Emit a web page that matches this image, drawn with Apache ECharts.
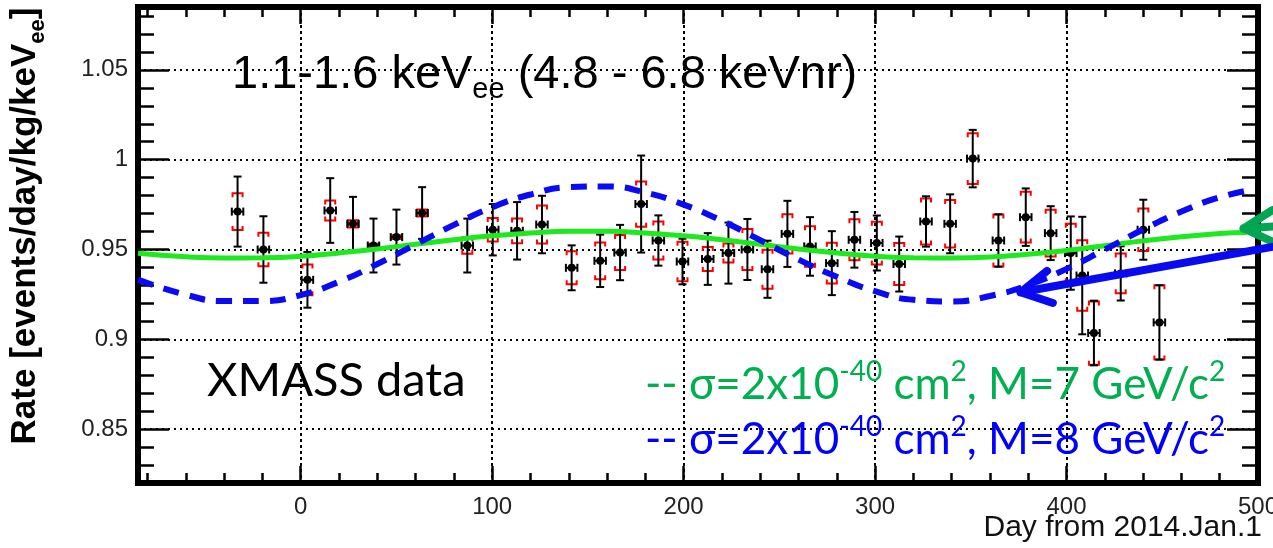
<!DOCTYPE html>
<html>
<head>
<meta charset="utf-8">
<title>XMASS modulation</title>
<script src="https://cdn.jsdelivr.net/npm/echarts@6/dist/echarts.min.js"></script>
<style>
  html, body { margin: 0; padding: 0; background: #fff; }
  #chart { width: 1273px; height: 548px; }
</style>
</head>
<body>
<div id="chart"></div>
<script>
// axis range and ticks
const X_MIN = -85
const X_MAX = 500
const Y_MIN = 0.82
const Y_MAX = 1.085
const xMajor = [0, 100, 200, 300, 400, 500]
const xMinor = [-80, -60, -40, -20, 0, 20, 40, 60, 80, 100, 120, 140, 160, 180, 200, 220, 240, 260, 280, 300,
  320, 340, 360, 380, 400, 420, 440, 460, 480, 500]
const yMajor = [0.85, 0.9, 0.95, 1, 1.05]
const yMinor = [0.82, 0.83, 0.84, 0.85, 0.86, 0.87, 0.88, 0.89, 0.9, 0.91, 0.92, 0.93, 0.94, 0.95, 0.96, 0.97,
  0.98, 0.99, 1, 1.01, 1.02, 1.03, 1.04, 1.05, 1.06, 1.07, 1.08]

// XMASS data points (day, rate, stat. error, syst. error)
const days = [-33, -19.5, 3.5, 15.4, 27.3, 38, 50, 63.4, 87, 100.3, 113, 126, 141.5, 156.4, 166.8, 177.8,
  186.8, 199.4, 212.6, 223.4, 233.3, 243.8, 254.2, 266, 277.4, 289.2, 300.9, 312.6, 326.6, 339.2, 351,
  364.4, 378.7, 391.7, 402.2, 408.2, 414.3, 428.3, 440.1, 448.5]
const rates = [0.9711, 0.950, 0.9331, 0.9717, 0.9643, 0.9522, 0.9569, 0.9703, 0.9522, 0.961, 0.9604, 0.9639,
  0.9398, 0.9437, 0.9483, 0.9753, 0.955, 0.9433, 0.9447, 0.948, 0.950, 0.939, 0.9587, 0.9517, 0.9424, 0.9554,
  0.9536, 0.9419, 0.9656, 0.9643, 1.0006, 0.955, 0.968, 0.9591, 0.948, 0.9355, 0.9035, 0.9367, 0.961, 0.9094]
const statErr = [0.0195, 0.0185, 0.0155, 0.018, 0.015, 0.015, 0.0153, 0.0144, 0.015, 0.0143, 0.016, 0.016,
  0.0125, 0.0146, 0.0154, 0.027, 0.014, 0.0127, 0.0144, 0.017, 0.017, 0.0159, 0.0184, 0.0163, 0.0178, 0.0155,
  0.0153, 0.0153, 0.014, 0.0164, 0.016, 0.0146, 0.016, 0.015, 0.0204, 0.0327, 0.018, 0.0151, 0.0167, 0.0207]
const sysErr = [0.0102, 0.0093, 0.0086, 0.0056, 0.002, 0.001, 0.001, 0.002, 0.0046, 0.0065, 0.0069, 0.0106,
  0.0092, 0.0102, 0.0097, 0.0126, 0.0106, 0.011, 0.0067, 0.0053, 0.0114, 0.0109, 0.0109, 0.0113, 0.0113, 0.0114,
  0.0119, 0.0117, 0.0128, 0.0132, 0.0141, 0.0145, 0.0141, 0.013, 0.0163, 0.0196, 0.0176, 0.011, 0.0118, 0.0207]
const dayErr = 3

// expected modulation, M=7 GeV/c2 (green)
const curveDays7 = [-85, -60, -40, -20, 0, 20, 40, 60, 80, 100, 120, 140, 160, 180, 200, 220, 240, 260, 280, 300,
  320, 340, 360, 380, 400, 420, 440, 460, 480, 494]
const curve7 = [0.9479, 0.9460, 0.9453, 0.9454, 0.9462, 0.9481, 0.9503, 0.9529, 0.9554, 0.9576, 0.9592, 0.9601,
  0.9601, 0.9592, 0.9576, 0.9554, 0.9529, 0.9503, 0.9481, 0.9463, 0.9454, 0.9453, 0.9458, 0.9474, 0.9495,
  0.9521, 0.9548, 0.9571, 0.9589, 0.9595]

// expected modulation, M=8 GeV/c2 (blue dashed)
const curveDays8 = [-85, -60, -40, -20, 0, 20, 40, 60, 80, 100, 120, 140, 160, 180, 200, 220, 240, 260, 280, 300,
  320, 340, 360, 380, 400, 420, 440, 460, 480, 497]
const curve8 = [0.9332, 0.9248, 0.9213, 0.9213, 0.9246, 0.9320, 0.9419, 0.9528, 0.9637, 0.9735, 0.9806, 0.9847,
  0.9851, 0.9817, 0.9750, 0.9660, 0.9552, 0.9444, 0.9348, 0.9268, 0.9220, 0.9211, 0.9241, 0.9302, 0.9392,
  0.9500, 0.9611, 0.9711, 0.9791, 0.9833]

// annotation arrows: [tip, tail] in (day, rate)
const arrowGreen = [[492.5, 0.9617], [525, 0.9641]]
const arrowBlue = [[376, 0.9262], [525, 0.9548]]

const chart = echarts.init(document.getElementById('chart'))

const errRows = days.map((d, i) => [d, rates[i], statErr[i], sysErr[i]])

// error bars + syst. brackets + marker
const renderErr = (params, api) => {
  const x = api.value(0)
  const y = api.value(1)
  const st = api.value(2)
  const sy = api.value(3)
  const c = api.coord([x, y])
  const top = api.coord([x, y + st])[1]
  const bot = api.coord([x, y - st])[1]
  const sTop = api.coord([x, y + sy])[1]
  const sBot = api.coord([x, y - sy])[1]
  const xl = api.coord([x - dayErr, y])[0]
  const xr = api.coord([x + dayErr, y])[0]
  const blk = { stroke: '#000', lineWidth: 2, fill: null }
  const red = { stroke: '#ff0000', lineWidth: 2, fill: null }
  const line = (x1, y1, x2, y2, style) => ({ type: 'line', shape: { x1, y1, x2, y2 }, style })
  return {
    type: 'group',
    children: [
      { type: 'polyline', shape: { points: [[c[0] - 5, sTop + 4], [c[0] - 5, sTop], [c[0] + 5, sTop], [c[0] + 5, sTop + 4]] }, style: red },
      { type: 'polyline', shape: { points: [[c[0] - 5, sBot - 4], [c[0] - 5, sBot], [c[0] + 5, sBot], [c[0] + 5, sBot - 4]] }, style: red },
      line(c[0], top, c[0], bot, blk),
      line(c[0] - 4, top, c[0] + 4, top, blk),
      line(c[0] - 4, bot, c[0] + 4, bot, blk),
      line(xl, c[1], xr, c[1], blk),
      line(xl, c[1] - 4, xl, c[1] + 4, blk),
      line(xr, c[1] - 4, xr, c[1] + 4, blk),
      { type: 'circle', shape: { cx: c[0], cy: c[1], r: 4 }, style: { fill: '#000' } }
    ]
  }
}

const tickStyle = { color: '#000', width: 2.5 }
const noLine = { show: false, onZero: false }
const gridDots = (t) => ({ show: true, lineStyle: { color: '#000', width: 2, type: t } })
const labelFont = { color: '#222', fontSize: 24, fontFamily: 'Liberation Sans, Arial, sans-serif' }

const xAxisOf = (position, ticks, len, withLabels) => ({
  type: 'value', position, min: X_MIN, max: X_MAX,
  axisLine: noLine,
  axisTick: { inside: true, length: len, customValues: ticks, lineStyle: tickStyle },
  axisLabel: withLabels ? { customValues: xMajor, margin: 12, ...labelFont } : { show: false },
  splitLine: withLabels ? gridDots([3, 3]) : { show: false }
})
const yAxisOf = (position, ticks, len, withLabels) => ({
  type: 'value', position, min: Y_MIN, max: Y_MAX,
  axisLine: noLine,
  axisTick: { inside: true, length: len, customValues: ticks, lineStyle: tickStyle },
  axisLabel: withLabels ? { customValues: yMajor, margin: 10, ...labelFont } : { show: false },
  splitLine: withLabels ? gridDots([2, 4]) : { show: false }
})

const textGraphics = [
  {
    type: 'text', id: 'title', x: 232, y: 47, z: 50,
    style: {
      text: '{m|1.1-1.6 keV}{s|ee}{m| (4.8 - 6.8 keVnr)}',
      verticalAlign: 'top',
      rich: {
        m: { fontSize: 47, fontFamily: 'Liberation Sans', fill: '#000', lineHeight: 57 },
        s: { fontSize: 29, fontFamily: 'Liberation Sans', fill: '#000', lineHeight: 29, verticalAlign: 'bottom' }
      }
    }
  },
  {
    type: 'text', id: 'xmass', x: 207, y: 381, z: 50,
    style: { text: 'XMASS data', fontSize: 47, fontFamily: 'Lato', fill: '#000', verticalAlign: 'middle' }
  },
  ...[['g7', '7', '#00b050', 385], ['b8', '8', '#0000ff', 440]].map(([id, m, col, y]) => ({
    type: 'text', id, x: 645, y, z: 50,
    style: {
      text: '{m|-- σ=2x10}{p|-40}{m| cm}{p|2}{m|, M=' + m + ' GeV/c}{p|2}',
      verticalAlign: 'middle',
      rich: {
        m: { fontSize: 44, fontFamily: 'Lato', fill: col, lineHeight: 54 },
        p: { fontSize: 28, fontFamily: 'Lato', fill: col, lineHeight: 28, verticalAlign: 'top' }
      }
    }
  })),
  {
    type: 'text', id: 'ytitle', x: 25, y: 226, rotation: Math.PI / 2, z: 50,
    style: {
      text: '{m|Rate [events/day/kg/keV}{s|ee}{m|]}',
      align: 'center', verticalAlign: 'middle',
      rich: {
        m: { fontSize: 35, fontWeight: 'bold', fontFamily: 'Liberation Sans', fill: '#000', lineHeight: 47 },
        s: { fontSize: 22, fontWeight: 'bold', fontFamily: 'Liberation Sans', fill: '#000', lineHeight: 22, verticalAlign: 'bottom' }
      }
    }
  },
  {
    type: 'text', id: 'xtitle', x: 1262, y: 528, z: 50,
    style: {
      text: 'Day from 2014.Jan.1', fontSize: 30, fontFamily: 'Liberation Sans', fill: '#111',
      align: 'right', verticalAlign: 'middle'
    }
  }
]

const option = {
  animation: false,
  backgroundColor: '#fff',
  grid: {
    left: 138, right: 15, top: 7, bottom: 65,
    show: true, borderColor: '#000', borderWidth: 6, backgroundColor: 'transparent',
    outerBoundsMode: 'none', containLabel: false
  },
  xAxis: [
    xAxisOf('bottom', xMajor, 17, true),
    xAxisOf('bottom', xMinor, 10, false),
    xAxisOf('top', xMajor, 17, false),
    xAxisOf('top', xMinor, 10, false)
  ],
  yAxis: [
    yAxisOf('left', yMinor, 16, false),
    yAxisOf('left', yMajor, 31, true),
    yAxisOf('right', yMinor, 16, false),
    yAxisOf('right', yMajor, 31, false)
  ],
  series: [
    {
      type: 'custom', name: 'data', xAxisIndex: 0, yAxisIndex: 0,
      data: errRows, encode: { x: 0, y: 1 }, renderItem: renderErr, z: 3
    },
    {
      type: 'line', name: 'M=7', xAxisIndex: 0, yAxisIndex: 0,
      data: curveDays7.map((d, i) => [d, curve7[i]]),
      smooth: true, showSymbol: false, symbol: 'none', z: 4,
      lineStyle: { color: '#1ee81e', width: 5 }
    },
    {
      type: 'line', name: 'M=8', xAxisIndex: 0, yAxisIndex: 0,
      data: curveDays8.map((d, i) => [d, curve8[i]]),
      smooth: true, showSymbol: false, symbol: 'none', z: 5,
      lineStyle: { color: '#0a0af5', width: 6, type: [16, 11] }
    }
  ],
  graphic: textGraphics
}

chart.setOption(option)

// arrows placed in data coordinates
const arrowGraphic = (id, pts, color) => {
  const finder = { xAxisIndex: 0, yAxisIndex: 0 }
  const tip = chart.convertToPixel(finder, pts[0])
  const tail = chart.convertToPixel(finder, pts[1])
  const ang = Math.atan2(tail[1] - tip[1], tail[0] - tip[0])
  const headLen = 34
  const headAng = 0.5
  const arm = a => [tip[0] + headLen * Math.cos(ang + a), tip[1] + headLen * Math.sin(ang + a)]
  const st = { stroke: color, lineWidth: 8, lineCap: 'round', lineJoin: 'round', fill: null }
  return [
    { type: 'polyline', id: id + 'L', z: 60, shape: { points: [tip, tail] }, style: st },
    { type: 'polyline', id: id + 'H', z: 60, shape: { points: [arm(headAng), tip, arm(-headAng)] }, style: st }
  ]
}

chart.setOption({
  graphic: [
    ...arrowGraphic('ag', arrowGreen, '#00a651'),
    ...arrowGraphic('ab', arrowBlue, '#0a0af0')
  ]
})
</script>
</body>
</html>
